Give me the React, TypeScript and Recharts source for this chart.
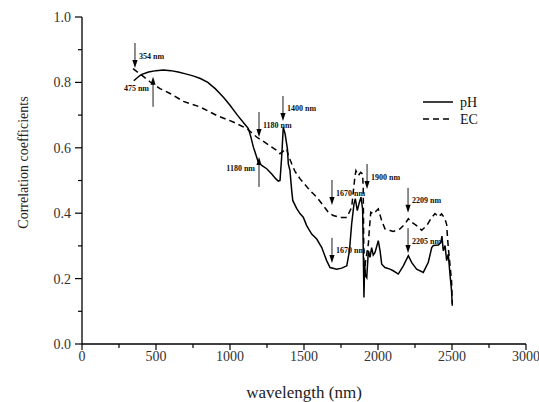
import React from 'react';
import { LineChart, Line, XAxis, YAxis, ReferenceDot, Label } from 'recharts';

const FONT = 'Liberation Serif, Times New Roman, DejaVu Serif, serif';

const phWavelength = [350, 375, 400, 450, 500, 550, 600, 650, 700, 750, 800, 850, 900, 930, 960, 1000, 1050, 1100, 1124, 1140, 1158, 1169, 1191, 1214, 1248, 1282, 1310, 1327, 1338, 1349, 1360, 1372, 1388, 1394, 1405, 1417, 1424, 1450, 1474, 1495, 1518, 1552, 1586, 1620, 1653, 1676, 1721, 1755, 1789, 1807, 1822, 1838, 1847, 1860, 1874, 1885, 1896, 1900, 1905, 1910, 1915, 1924, 1935, 1946, 1957, 1968, 1980, 2002, 2014, 2025, 2047, 2081, 2103, 2137, 2171, 2205, 2228, 2261, 2306, 2340, 2363, 2374, 2408, 2425, 2432, 2441, 2453, 2464, 2475, 2486, 2497, 2502];
const phValue = [0.805, 0.815, 0.824, 0.832, 0.836, 0.838, 0.836, 0.832, 0.826, 0.82, 0.812, 0.8, 0.781, 0.767, 0.752, 0.73, 0.7, 0.672, 0.659, 0.635, 0.602, 0.587, 0.556, 0.546, 0.536, 0.52, 0.505, 0.498, 0.5, 0.571, 0.663, 0.643, 0.597, 0.551, 0.531, 0.469, 0.439, 0.415, 0.398, 0.388, 0.362, 0.336, 0.321, 0.295, 0.255, 0.234, 0.229, 0.232, 0.239, 0.285, 0.367, 0.429, 0.444, 0.408, 0.433, 0.449, 0.413, 0.3, 0.142, 0.245, 0.21, 0.203, 0.285, 0.265, 0.295, 0.272, 0.28, 0.316, 0.285, 0.244, 0.234, 0.229, 0.224, 0.214, 0.239, 0.27, 0.249, 0.229, 0.219, 0.25, 0.295, 0.301, 0.303, 0.311, 0.33, 0.285, 0.301, 0.255, 0.275, 0.214, 0.163, 0.117];

const ecWavelength = [345, 403, 459, 527, 595, 685, 797, 910, 1022, 1113, 1180, 1248, 1315, 1338, 1360, 1383, 1394, 1417, 1439, 1474, 1541, 1586, 1631, 1664, 1698, 1743, 1789, 1822, 1834, 1845, 1851, 1867, 1883, 1896, 1900, 1906, 1915, 1935, 1941, 1951, 1968, 1991, 2002, 2025, 2047, 2081, 2103, 2149, 2182, 2205, 2228, 2261, 2295, 2329, 2363, 2385, 2408, 2430, 2453, 2464, 2468, 2475, 2486, 2497, 2502];
const ecValue = [0.842, 0.822, 0.802, 0.781, 0.766, 0.742, 0.725, 0.699, 0.679, 0.659, 0.633, 0.613, 0.592, 0.582, 0.59, 0.597, 0.577, 0.551, 0.528, 0.505, 0.469, 0.449, 0.423, 0.403, 0.393, 0.387, 0.387, 0.418, 0.47, 0.515, 0.53, 0.515, 0.525, 0.52, 0.479, 0.19, 0.25, 0.306, 0.347, 0.403, 0.398, 0.408, 0.413, 0.377, 0.352, 0.347, 0.344, 0.352, 0.367, 0.383, 0.372, 0.362, 0.348, 0.362, 0.387, 0.399, 0.389, 0.398, 0.382, 0.365, 0.336, 0.295, 0.244, 0.193, 0.123];

const xTicks = [0, 250, 500, 750, 1000, 1250, 1500, 1750, 2000, 2250, 2500, 2750, 3000];
const xMajorTicks = [0, 500, 1000, 1500, 2000, 2500, 3000];
const yTicks = [0, 0.1, 0.2, 0.3, 0.4, 0.5, 0.6, 0.7, 0.8, 0.9, 1.0];
const yMajorTicks = [0, 0.2, 0.4, 0.6, 0.8, 1.0];

const annotWavelength = [358, 480, 1196, 1196, 1358, 1689, 1689, 1926, 2203, 2203];
const annotValue = [0.844, 0.817, 0.633, 0.572, 0.682, 0.425, 0.248, 0.474, 0.401, 0.278];
const annotText = ['354 nm', '475 nm', '1180 nm', '1180 nm', '1400 nm', '1670 nm', '1670 nm', '1900 nm', '2209 nm', '2205 nm'];
const annotDirection = ['down', 'up', 'down', 'up', 'down', 'down', 'down', 'down', 'down', 'down'];

const seriesNames = ['pH', 'EC'];

const phData = phWavelength.map((wl, i) => ({ wl, v: phValue[i] }));
const ecData = ecWavelength.map((wl, i) => ({ wl, v: ecValue[i] }));

const serif = { fontFamily: FONT };

const XTick = (props: any) => {
  const { x, y, payload } = props;
  const v = payload.value;
  const major = xMajorTicks.includes(v);
  return (
    <g>
      <line x1={x} x2={x} y1={y} y2={y + (major ? 6 : 4)} stroke="#000" strokeWidth={1.2} />
      {major && (
        <text x={x} y={y + 17} textAnchor="middle" fontSize={14} style={serif} fill="#333">
          {v}
        </text>
      )}
    </g>
  );
};

const YTick = (props: any) => {
  const { x, y, payload } = props;
  const v = payload.value;
  const major = yMajorTicks.some((m) => Math.abs(m - v) < 1e-6);
  return (
    <g>
      <line x1={x - (major ? 7 : 4)} x2={x} y1={y} y2={y} stroke="#000" strokeWidth={1.2} />
      {major && (
        <text x={x - 11} y={y + 5} textAnchor="end" fontSize={14} style={serif} fill="#333">
          {v.toFixed(1)}
        </text>
      )}
    </g>
  );
};

const makeArrow = (text: string, dir: string) => (p: any) => {
  const { cx, cy } = p;
  const s = dir === 'down' ? -1 : 1;
  const len = dir === 'down' ? 25 : 30;
  const head = 8;
  const tail = cy + s * len;
  const headBase = cy + s * head;
  return (
    <g>
      <line x1={cx} x2={cx} y1={tail} y2={headBase} stroke="#000" strokeWidth={0.9} />
      <polygon points={`${cx - 2.6},${headBase} ${cx + 2.6},${headBase} ${cx},${cy}`} fill="#000" />
      <text
        x={dir === 'down' ? cx + 4 : cx - 4}
        y={dir === 'down' ? cy - 12 : cy + 12}
        dominantBaseline="central"
        textAnchor={dir === 'down' ? 'start' : 'end'}
        fontSize={8}
        fontWeight="bold"
        style={serif}
        fill="#111"
      >
        {text}
      </text>
    </g>
  );
};

const LegendBox = () => (
  <svg width={90} height={40} style={{ position: 'absolute', left: 418, top: 92 }}>
    <line x1={5} x2={35} y1={10} y2={10} stroke="#000" strokeWidth={1.5} />
    <text x={42} y={10} dominantBaseline="central" fontSize={14} style={serif} fill="#111">
      {seriesNames[0]}
    </text>
    <line x1={5} x2={35} y1={27} y2={27} stroke="#000" strokeWidth={1.5} strokeDasharray="6 4" />
    <text x={42} y={27} dominantBaseline="central" fontSize={14} style={serif} fill="#111">
      {seriesNames[1]}
    </text>
  </svg>
);

export default function App() {
  return (
    <div style={{ position: 'absolute', left: 0, top: 0, width: 539, height: 402, background: '#fff' }}>
      <LineChart width={539} height={402} margin={{ top: 17, right: 13, bottom: 0, left: 0 }}>
        <XAxis
          dataKey="wl"
          type="number"
          domain={[0, 3000]}
          ticks={xTicks}
          interval={0}
          height={58}
          tickSize={0}
          tickMargin={0}
          tickLine={false}
          tick={<XTick />}
          axisLine={{ stroke: '#000', strokeWidth: 1.3 }}
          allowDataOverflow
        >
          <Label
            content={(p: any) => {
              const vb = p.viewBox;
              return (
                <text x={vb.x + vb.width / 2} y={vb.y + 54} textAnchor="middle" fontSize={17} style={serif} fill="#222">
                  wavelength (nm)
                </text>
              );
            }}
          />
        </XAxis>
        <YAxis
          type="number"
          domain={[0, 1]}
          ticks={yTicks}
          interval={0}
          width={82}
          tickSize={0}
          tickMargin={0}
          tickLine={false}
          tick={<YTick />}
          axisLine={{ stroke: '#000', strokeWidth: 1.3 }}
          allowDataOverflow
        >
          <Label
            content={(p: any) => {
              const vb = p.viewBox;
              const cx = vb.x + 23;
              const cy = vb.y + vb.height / 2 - 18;
              return (
                <text
                  x={cx}
                  y={cy}
                  transform={`rotate(-90 ${cx} ${cy})`}
                  textAnchor="middle"
                  dominantBaseline="central"
                  fontSize={14}
                  style={serif}
                  fill="#222"
                >
                  Correlation coefficients
                </text>
              );
            }}
          />
        </YAxis>
        <Line data={phData} dataKey="v" name={seriesNames[0]} type="linear" dot={false} stroke="#000" strokeWidth={1.5} isAnimationActive={false} />
        <Line data={ecData} dataKey="v" name={seriesNames[1]} type="linear" dot={false} stroke="#000" strokeWidth={1.5} strokeDasharray="6 4" isAnimationActive={false} />
        {annotWavelength.map((wl, i) => (
          <ReferenceDot
            key={i}
            x={wl}
            y={annotValue[i]}
            r={0}
            ifOverflow="visible"
            shape={makeArrow(annotText[i], annotDirection[i])}
          />
        ))}
      </LineChart>
      <LegendBox />
    </div>
  );
}
